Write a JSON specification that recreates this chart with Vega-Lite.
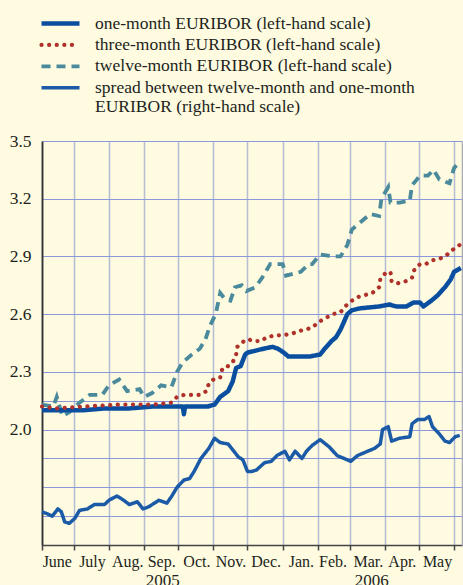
{
  "$schema": "https://vega.github.io/schema/vega-lite/v6.json",
  "width": 420,
  "height": 404,
  "autosize": {"type": "none"},
  "padding": {"left": 42, "top": 141, "right": 1, "bottom": 40},
  "background": "#fefbe0",
  "config": {
    "view": {"stroke": null, "fill": "#fefbe0"},
    "font": "Liberation Serif, Times New Roman, DejaVu Serif, serif",
    "axis": {"labelFont": "Liberation Serif, Times New Roman, DejaVu Serif, serif", "labelFontSize": 16, "labelColor": "#231f20", "title": null},
    "legend": {"labelFont": "Liberation Serif, Times New Roman, DejaVu Serif, serif"}
  },
  "data": {"values": [
    {"d":"2005-06-03","s":"1m","v":2.10},{"d":"2005-06-20","s":"1m","v":2.10},{"d":"2005-07-08","s":"1m","v":2.10},{"d":"2005-07-29","s":"1m","v":2.11},{"d":"2005-08-19","s":"1m","v":2.11},{"d":"2005-09-09","s":"1m","v":2.12},{"d":"2005-09-30","s":"1m","v":2.12},{"d":"2005-10-05","s":"1m","v":2.12},{"d":"2005-10-06","s":"1m","v":2.08},{"d":"2005-10-07","s":"1m","v":2.12},{"d":"2005-10-20","s":"1m","v":2.12},{"d":"2005-10-27","s":"1m","v":2.12},{"d":"2005-11-02","s":"1m","v":2.13},{"d":"2005-11-07","s":"1m","v":2.17},{"d":"2005-11-14","s":"1m","v":2.20},{"d":"2005-11-18","s":"1m","v":2.25},{"d":"2005-11-21","s":"1m","v":2.32},{"d":"2005-11-25","s":"1m","v":2.33},{"d":"2005-11-29","s":"1m","v":2.39},{"d":"2005-12-01","s":"1m","v":2.40},{"d":"2005-12-08","s":"1m","v":2.41},{"d":"2005-12-15","s":"1m","v":2.42},{"d":"2005-12-23","s":"1m","v":2.43},{"d":"2005-12-28","s":"1m","v":2.42},{"d":"2006-01-02","s":"1m","v":2.40},{"d":"2006-01-06","s":"1m","v":2.38},{"d":"2006-01-16","s":"1m","v":2.38},{"d":"2006-01-25","s":"1m","v":2.38},{"d":"2006-02-03","s":"1m","v":2.39},{"d":"2006-02-07","s":"1m","v":2.42},{"d":"2006-02-13","s":"1m","v":2.46},{"d":"2006-02-17","s":"1m","v":2.48},{"d":"2006-02-21","s":"1m","v":2.52},{"d":"2006-02-24","s":"1m","v":2.56},{"d":"2006-02-27","s":"1m","v":2.60},{"d":"2006-03-03","s":"1m","v":2.62},{"d":"2006-03-10","s":"1m","v":2.63},{"d":"2006-03-27","s":"1m","v":2.64},{"d":"2006-04-05","s":"1m","v":2.65},{"d":"2006-04-11","s":"1m","v":2.64},{"d":"2006-04-20","s":"1m","v":2.64},{"d":"2006-04-26","s":"1m","v":2.66},{"d":"2006-05-02","s":"1m","v":2.66},{"d":"2006-05-05","s":"1m","v":2.64},{"d":"2006-05-12","s":"1m","v":2.67},{"d":"2006-05-18","s":"1m","v":2.70},{"d":"2006-05-24","s":"1m","v":2.74},{"d":"2006-05-29","s":"1m","v":2.78},{"d":"2006-06-01","s":"1m","v":2.82},{"d":"2006-06-07","s":"1m","v":2.84},

    {"d":"2005-06-03","s":"3m","v":2.12},{"d":"2005-06-15","s":"3m","v":2.11},{"d":"2005-07-10","s":"3m","v":2.12},{"d":"2005-08-10","s":"3m","v":2.13},{"d":"2005-09-09","s":"3m","v":2.13},{"d":"2005-09-25","s":"3m","v":2.14},{"d":"2005-09-30","s":"3m","v":2.17},{"d":"2005-10-06","s":"3m","v":2.18},{"d":"2005-10-20","s":"3m","v":2.18},{"d":"2005-10-26","s":"3m","v":2.20},{"d":"2005-10-28","s":"3m","v":2.24},{"d":"2005-11-01","s":"3m","v":2.26},{"d":"2005-11-07","s":"3m","v":2.27},{"d":"2005-11-09","s":"3m","v":2.32},{"d":"2005-11-14","s":"3m","v":2.33},{"d":"2005-11-18","s":"3m","v":2.35},{"d":"2005-11-21","s":"3m","v":2.39},{"d":"2005-11-22","s":"3m","v":2.43},{"d":"2005-11-28","s":"3m","v":2.46},{"d":"2005-12-01","s":"3m","v":2.47},{"d":"2005-12-07","s":"3m","v":2.46},{"d":"2005-12-13","s":"3m","v":2.46},{"d":"2005-12-18","s":"3m","v":2.48},{"d":"2005-12-26","s":"3m","v":2.49},{"d":"2006-01-01","s":"3m","v":2.49},{"d":"2006-01-10","s":"3m","v":2.50},{"d":"2006-01-14","s":"3m","v":2.51},{"d":"2006-01-21","s":"3m","v":2.52},{"d":"2006-01-27","s":"3m","v":2.53},{"d":"2006-02-02","s":"3m","v":2.56},{"d":"2006-02-08","s":"3m","v":2.58},{"d":"2006-02-14","s":"3m","v":2.60},{"d":"2006-02-21","s":"3m","v":2.61},{"d":"2006-02-25","s":"3m","v":2.64},{"d":"2006-03-03","s":"3m","v":2.67},{"d":"2006-03-09","s":"3m","v":2.69},{"d":"2006-03-15","s":"3m","v":2.70},{"d":"2006-03-21","s":"3m","v":2.71},{"d":"2006-03-27","s":"3m","v":2.74},{"d":"2006-03-28","s":"3m","v":2.78},{"d":"2006-04-01","s":"3m","v":2.81},{"d":"2006-04-06","s":"3m","v":2.82},{"d":"2006-04-07","s":"3m","v":2.77},{"d":"2006-04-12","s":"3m","v":2.76},{"d":"2006-04-19","s":"3m","v":2.77},{"d":"2006-04-25","s":"3m","v":2.79},{"d":"2006-04-27","s":"3m","v":2.83},{"d":"2006-05-02","s":"3m","v":2.86},{"d":"2006-05-07","s":"3m","v":2.86},{"d":"2006-05-13","s":"3m","v":2.88},{"d":"2006-05-20","s":"3m","v":2.89},{"d":"2006-05-26","s":"3m","v":2.91},{"d":"2006-06-01","s":"3m","v":2.94},{"d":"2006-06-06","s":"3m","v":2.96},

    {"d":"2005-06-03","s":"12m","v":2.13},{"d":"2005-06-13","s":"12m","v":2.12},{"d":"2005-06-16","s":"12m","v":2.17},{"d":"2005-06-21","s":"12m","v":2.07},{"d":"2005-06-27","s":"12m","v":2.09},{"d":"2005-07-06","s":"12m","v":2.14},{"d":"2005-07-15","s":"12m","v":2.18},{"d":"2005-07-26","s":"12m","v":2.18},{"d":"2005-08-01","s":"12m","v":2.23},{"d":"2005-08-10","s":"12m","v":2.26},{"d":"2005-08-17","s":"12m","v":2.20},{"d":"2005-08-28","s":"12m","v":2.21},{"d":"2005-09-01","s":"12m","v":2.17},{"d":"2005-09-08","s":"12m","v":2.19},{"d":"2005-09-16","s":"12m","v":2.23},{"d":"2005-09-25","s":"12m","v":2.22},{"d":"2005-09-30","s":"12m","v":2.30},{"d":"2005-10-05","s":"12m","v":2.35},{"d":"2005-10-13","s":"12m","v":2.39},{"d":"2005-10-20","s":"12m","v":2.42},{"d":"2005-10-25","s":"12m","v":2.47},{"d":"2005-10-29","s":"12m","v":2.54},{"d":"2005-11-03","s":"12m","v":2.60},{"d":"2005-11-07","s":"12m","v":2.71},{"d":"2005-11-11","s":"12m","v":2.68},{"d":"2005-11-16","s":"12m","v":2.67},{"d":"2005-11-20","s":"12m","v":2.74},{"d":"2005-11-26","s":"12m","v":2.75},{"d":"2005-11-30","s":"12m","v":2.72},{"d":"2005-12-08","s":"12m","v":2.74},{"d":"2005-12-14","s":"12m","v":2.79},{"d":"2005-12-21","s":"12m","v":2.86},{"d":"2006-01-01","s":"12m","v":2.86},{"d":"2006-01-04","s":"12m","v":2.80},{"d":"2006-01-10","s":"12m","v":2.81},{"d":"2006-01-17","s":"12m","v":2.82},{"d":"2006-01-24","s":"12m","v":2.86},{"d":"2006-01-27","s":"12m","v":2.86},{"d":"2006-02-03","s":"12m","v":2.91},{"d":"2006-02-15","s":"12m","v":2.90},{"d":"2006-02-21","s":"12m","v":2.90},{"d":"2006-02-27","s":"12m","v":2.96},{"d":"2006-03-03","s":"12m","v":3.04},{"d":"2006-03-11","s":"12m","v":3.08},{"d":"2006-03-19","s":"12m","v":3.12},{"d":"2006-03-27","s":"12m","v":3.11},{"d":"2006-03-29","s":"12m","v":3.20},{"d":"2006-04-04","s":"12m","v":3.26},{"d":"2006-04-06","s":"12m","v":3.18},{"d":"2006-04-14","s":"12m","v":3.18},{"d":"2006-04-23","s":"12m","v":3.19},{"d":"2006-04-25","s":"12m","v":3.27},{"d":"2006-05-02","s":"12m","v":3.32},{"d":"2006-05-09","s":"12m","v":3.32},{"d":"2006-05-14","s":"12m","v":3.35},{"d":"2006-05-19","s":"12m","v":3.30},{"d":"2006-05-28","s":"12m","v":3.28},{"d":"2006-06-01","s":"12m","v":3.36},{"d":"2006-06-06","s":"12m","v":3.39},

    {"d":"2005-06-03","s":"spread","v":0.03},{"d":"2005-06-08","s":"spread","v":0.015},{"d":"2005-06-12","s":"spread","v":0.0},{"d":"2005-06-17","s":"spread","v":0.05},{"d":"2005-06-20","s":"spread","v":0.03},{"d":"2005-06-23","s":"spread","v":-0.04},{"d":"2005-06-27","s":"spread","v":-0.05},{"d":"2005-07-02","s":"spread","v":-0.015},{"d":"2005-07-06","s":"spread","v":0.04},{"d":"2005-07-13","s":"spread","v":0.05},{"d":"2005-07-19","s":"spread","v":0.08},{"d":"2005-07-28","s":"spread","v":0.08},{"d":"2005-08-01","s":"spread","v":0.11},{"d":"2005-08-08","s":"spread","v":0.14},{"d":"2005-08-14","s":"spread","v":0.11},{"d":"2005-08-19","s":"spread","v":0.08},{"d":"2005-08-26","s":"spread","v":0.10},{"d":"2005-08-31","s":"spread","v":0.05},{"d":"2005-09-05","s":"spread","v":0.065},{"d":"2005-09-14","s":"spread","v":0.11},{"d":"2005-09-21","s":"spread","v":0.09},{"d":"2005-09-25","s":"spread","v":0.135},{"d":"2005-09-30","s":"spread","v":0.20},{"d":"2005-10-06","s":"spread","v":0.25},{"d":"2005-10-11","s":"spread","v":0.26},{"d":"2005-10-15","s":"spread","v":0.31},{"d":"2005-10-21","s":"spread","v":0.40},{"d":"2005-10-28","s":"spread","v":0.47},{"d":"2005-11-02","s":"spread","v":0.54},{"d":"2005-11-07","s":"spread","v":0.51},{"d":"2005-11-14","s":"spread","v":0.50},{"d":"2005-11-18","s":"spread","v":0.46},{"d":"2005-11-23","s":"spread","v":0.41},{"d":"2005-11-27","s":"spread","v":0.39},{"d":"2005-12-01","s":"spread","v":0.31},{"d":"2005-12-05","s":"spread","v":0.31},{"d":"2005-12-09","s":"spread","v":0.32},{"d":"2005-12-16","s":"spread","v":0.37},{"d":"2005-12-22","s":"spread","v":0.38},{"d":"2005-12-27","s":"spread","v":0.42},{"d":"2006-01-03","s":"spread","v":0.45},{"d":"2006-01-07","s":"spread","v":0.39},{"d":"2006-01-12","s":"spread","v":0.45},{"d":"2006-01-18","s":"spread","v":0.40},{"d":"2006-01-22","s":"spread","v":0.45},{"d":"2006-01-27","s":"spread","v":0.49},{"d":"2006-02-03","s":"spread","v":0.53},{"d":"2006-02-11","s":"spread","v":0.48},{"d":"2006-02-18","s":"spread","v":0.42},{"d":"2006-02-24","s":"spread","v":0.40},{"d":"2006-03-02","s":"spread","v":0.38},{"d":"2006-03-08","s":"spread","v":0.42},{"d":"2006-03-17","s":"spread","v":0.45},{"d":"2006-03-23","s":"spread","v":0.47},{"d":"2006-03-28","s":"spread","v":0.50},{"d":"2006-03-30","s":"spread","v":0.60},{"d":"2006-04-04","s":"spread","v":0.62},{"d":"2006-04-07","s":"spread","v":0.52},{"d":"2006-04-14","s":"spread","v":0.54},{"d":"2006-04-23","s":"spread","v":0.55},{"d":"2006-04-25","s":"spread","v":0.64},{"d":"2006-04-30","s":"spread","v":0.67},{"d":"2006-05-06","s":"spread","v":0.67},{"d":"2006-05-10","s":"spread","v":0.69},{"d":"2006-05-13","s":"spread","v":0.62},{"d":"2006-05-19","s":"spread","v":0.57},{"d":"2006-05-24","s":"spread","v":0.52},{"d":"2006-05-28","s":"spread","v":0.51},{"d":"2006-06-02","s":"spread","v":0.55},{"d":"2006-06-06","s":"spread","v":0.56}
  ]},
  "layer": [
    {
      "encoding": {
        "x": {"field": "d", "type": "temporal",
          "scale": {"type": "utc", "domain": [{"year": 2005, "month": 6, "date": 3, "utc": true}, {"year": 2006, "month": 6, "date": 8, "utc": true}]},
          "axis": {"orient": "bottom",
            "values": [{"year":2005,"month":6,"date":3,"utc":true},{"year":2005,"month":7,"date":1,"utc":true},{"year":2005,"month":8,"date":1,"utc":true},{"year":2005,"month":9,"date":1,"utc":true},{"year":2005,"month":10,"date":1,"utc":true},{"year":2005,"month":11,"date":1,"utc":true},{"year":2005,"month":12,"date":1,"utc":true},{"year":2006,"month":1,"date":1,"utc":true},{"year":2006,"month":2,"date":1,"utc":true},{"year":2006,"month":3,"date":1,"utc":true},{"year":2006,"month":4,"date":1,"utc":true},{"year":2006,"month":5,"date":1,"utc":true},{"year":2006,"month":6,"date":1,"utc":true}],
            "grid": true, "gridColor": "#b5bcd3", "gridWidth": 1.5,
            "domainColor": "#444444", "domainWidth": 1.5, "tickColor": "#444444", "tickSize": 5, "tickWidth": 1.5,
            "labelExpr": "utcdate(datum.value) == 1 ? ['Dec.','Jan.','Feb.','Mar.','Apr.','May','June','July','Aug.','Sep.','Oct.','Nov.'][utcmonth(datum.value)] : ''",
            "labelOffset": -17, "labelAlign": "center", "labelBaseline": "top", "labelPadding": 3,
            "labelFlush": false, "labelOverlap": false, "labelBound": false}},
        "y": {"field": "v", "type": "quantitative",
          "scale": {"domain": [1.4, 3.5], "nice": false, "zero": false},
          "axis": {"values": [2.0, 2.3, 2.6, 2.9, 3.2, 3.5], "format": ".1f", "grid": true, "gridColor": "#8c98dc", "gridWidth": 1.2,
            "ticks": false, "domainColor": "#333333", "domainWidth": 1.8, "labelPadding": 11, "labelFontSize": 17.5}},
        "color": {"field": "s", "type": "nominal",
          "scale": {"domain": ["1m", "3m", "12m", "spread"], "range": ["#0a4f9f", "#b0302a", "#4a8a9c", "#1b5aa6"]},
          "legend": {"orient": "none", "legendX": -3, "legendY": -128, "direction": "vertical", "title": null, "padding": 0,
            "symbolType": "stroke", "symbolSize": 1444, "clipHeight": 21, "rowPadding": 0.4,
            "labelFont": "Liberation Serif, Times New Roman, DejaVu Serif, serif", "labelFontSize": 17.5, "labelColor": "#231f20", "labelOffset": 13, "labelLimit": 420,
            "labelExpr": "datum.label == '1m' ? 'one-month EURIBOR (left-hand scale)' : datum.label == '3m' ? 'three-month EURIBOR (left-hand scale)' : datum.label == '12m' ? 'twelve-month EURIBOR (left-hand scale)' : ['spread between twelve-month and one-month', 'EURIBOR (right-hand scale)']",
            "encode": {"symbols": {"update": {"strokeCap": {"signal": "datum.value == '3m' ? 'round' : 'butt'"}}}}}},
        "strokeDash": {"field": "s", "type": "nominal",
          "scale": {"domain": ["1m", "3m", "12m", "spread"], "range": [[1, 0], [0.1, 7.5], [9, 6], [1, 0]]}},
        "strokeWidth": {"field": "s", "type": "nominal",
          "scale": {"domain": ["1m", "3m", "12m", "spread"], "range": [4.5, 3.5, 4.5, 2]}}
      },
      "layer": [
        {"transform": [{"filter": "datum.s == '12m'"}], "mark": {"type": "line", "strokeCap": "butt"}},
        {"transform": [{"filter": "datum.s == '1m'"}], "mark": {"type": "line", "strokeJoin": "round"}},
        {"transform": [{"filter": "datum.s == '3m'"}], "mark": {"type": "line", "strokeCap": "round"}}
      ]
    },
    {
      "transform": [{"filter": "datum.s == 'spread'"}],
      "mark": {"type": "line", "strokeJoin": "round"},
      "encoding": {
        "x": {"field": "d", "type": "temporal",
          "scale": {"type": "utc", "domain": [{"year": 2005, "month": 6, "date": 3, "utc": true}, {"year": 2006, "month": 6, "date": 8, "utc": true}]},
          "axis": {"orient": "bottom",
            "values": [{"year":2005,"month":9,"date":17,"utc":true},{"year":2006,"month":3,"date":20,"utc":true}],
            "labelExpr": "'' + utcyear(datum.value)", "ticks": false, "domain": false, "grid": false,
            "offset": 25, "labelPadding": 2, "labelBaseline": "top", "labelAlign": "center",
            "labelFlush": false, "labelOverlap": false, "labelFontSize": 17}},
        "y": {"field": "v", "type": "quantitative",
          "scale": {"domain": [-0.2, 2.6], "nice": false, "zero": false},
          "axis": {"orient": "right", "values": [-0.2, 0, 0.2, 0.4, 0.6, 0.8, 1.0], "grid": true, "gridColor": "#8c98dc", "gridWidth": 1.2,
            "labels": false, "ticks": false, "domain": true, "domainColor": "#a8aab8", "domainWidth": 1.5}},
        "color": {"field": "s", "type": "nominal"},
        "strokeDash": {"field": "s", "type": "nominal"},
        "strokeWidth": {"field": "s", "type": "nominal"}
      }
    }
  ],
  "resolve": {"scale": {"x": "independent", "y": "independent"}}
}
